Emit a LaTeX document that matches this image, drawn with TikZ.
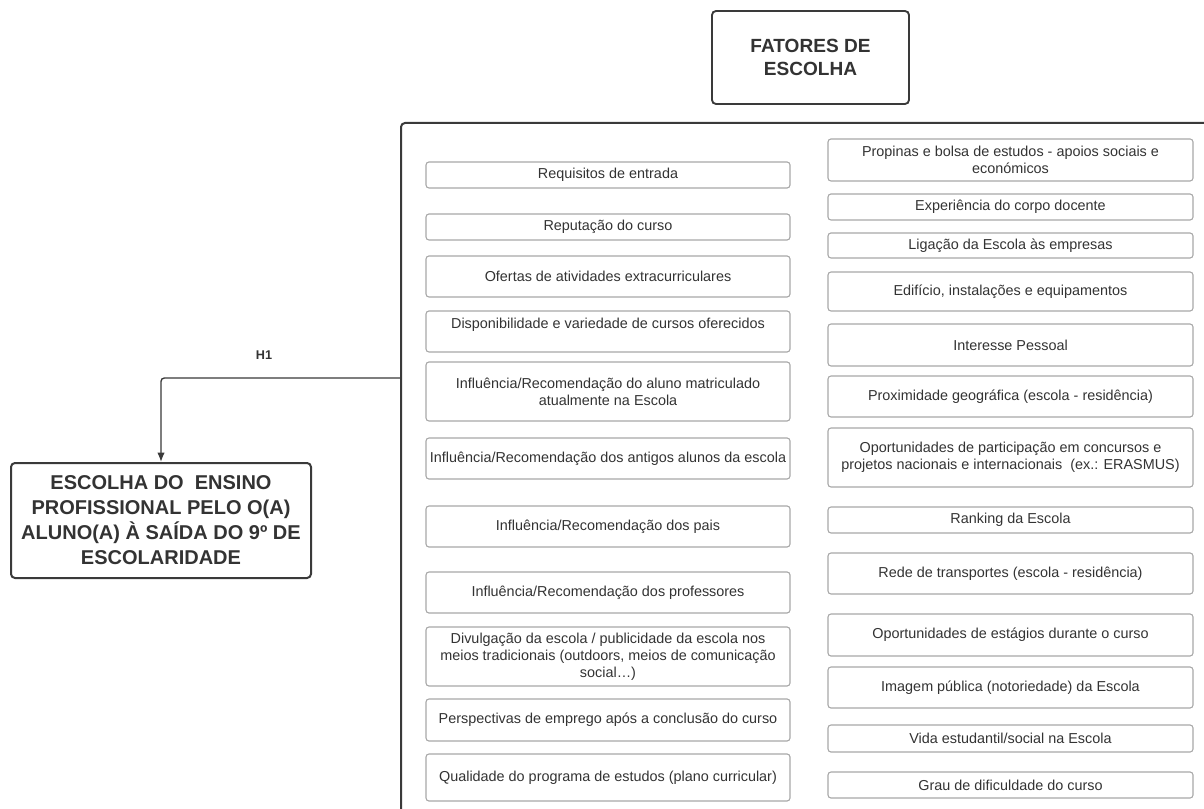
\documentclass[tikz,border=0pt]{standalone}
\usepackage{fontspec}
\setmainfont{Liberation Sans}
\usetikzlibrary{arrows.meta}
\definecolor{txt}{HTML}{333333}
\definecolor{edge}{HTML}{A8A8A8}
\definecolor{dark}{HTML}{3A3A3A}
\tikzset{
  item/.style={draw=edge, line width=0.8pt, rounded corners=2.2pt, align=center,
    text=txt, inner xsep=0pt, inner ysep=1pt, minimum width=#1*0.75pt,
    font=\fontsize{10.8}{12.75}\selectfont},
  item/.default=364,
  head/.style={draw=dark, line width=1.4pt, rounded corners=3pt, align=center,
    text=txt, inner sep=0pt, font=\bfseries\fontsize{14.3}{17.25}\selectfont},
  goalbox/.style={draw=dark, line width=1.5pt, rounded corners=3pt, align=center,
    text=txt, inner sep=0pt, font=\bfseries\fontsize{15}{18.75}\selectfont},
  frame/.style={draw=dark, line width=1.5pt, rounded corners=3pt},
  link/.style={draw=dark, line width=1pt, rounded corners=2.5pt, -{Latex[length=7pt,width=5.5pt]}},
  tag/.style={text=txt, font=\bfseries\fontsize{9.5}{11}\selectfont}
}
\begin{document}
\begin{tikzpicture}[x=0.75pt, y=-0.75pt]
\useasboundingbox (0,0) rectangle (1204,809);
\fill[white] (0,0) rectangle (1204,809);
% titles
\node[head, minimum width=197*0.75pt, minimum height=93*0.75pt] (title) at (810.5,57.5) {FATORES DE\\ESCOLHA};
\node[goalbox, minimum width=300*0.75pt, minimum height=115*0.75pt] (goal) at (161,520.5)
  {ESCOLHA DO\ \ ENSINO\\PROFISSIONAL PELO O(A)\\ALUNO(A) À SAÍDA DO 9º DE\\ESCOLARIDADE};
% container
\draw[frame] (1215,123) coordinate (ctr) -- (401,123) coordinate (ctl) -- (401,820) coordinate (cbl);
\coordinate (exit) at (401,378);
% left column
\node[item, minimum height=26*0.75pt] (l1) at (608,175) {Requisitos de entrada};
\node[item, minimum height=26*0.75pt] (l2) at (608,227) {Reputação do curso};
\node[item, minimum height=41*0.75pt] (l3) at (608,276.5) {Ofertas de atividades extracurriculares};
\node[item, minimum height=41*0.75pt] (l4) at (608,331.5) {Disponibilidade e variedade de cursos oferecidos\\\mbox{}};
\node[item, minimum height=59*0.75pt] (l5) at (608,391.5) {Influência/Recomendação do aluno matriculado\\atualmente na Escola};
\node[item, minimum height=41*0.75pt] (l6) at (608,458.5) {Influência/Recomendação dos antigos alunos da escola};
\node[item, minimum height=41*0.75pt] (l7) at (608,526.5) {Influência/Recomendação dos pais};
\node[item, minimum height=41*0.75pt] (l8) at (608,592.5) {Influência/Recomendação dos professores};
\node[item, minimum height=59*0.75pt] (l9) at (608,656.5) {Divulgação da escola / publicidade da escola nos\\meios tradicionais (outdoors, meios de comunicação\\social…)};
\node[item, minimum height=42*0.75pt] (l10) at (608,720) {Perspectivas de emprego após a conclusão do curso};
\node[item, minimum height=47*0.75pt] (l11) at (608,777.5) {Qualidade do programa de estudos (plano curricular)};
% right column
\node[item=365, minimum height=42*0.75pt] (r1) at (1010.5,160) {Propinas e bolsa de estudos - apoios sociais e\\económicos};
\node[item=365, minimum height=26*0.75pt] (r2) at (1010.5,207) {Experiência do corpo docente};
\node[item=365, minimum height=25*0.75pt] (r3) at (1010.5,245.5) {Ligação da Escola às empresas};
\node[item=365, minimum height=39*0.75pt] (r4) at (1010.5,291.5) {Edifício, instalações e equipamentos};
\node[item=365, minimum height=42*0.75pt] (r5) at (1010.5,345) {Interesse Pessoal};
\node[item=365, minimum height=41*0.75pt] (r6) at (1010.5,396.5) {Proximidade geográfica (escola - residência)};
\node[item=365, minimum height=59*0.75pt] (r7) at (1010.5,457.5) {Oportunidades de participação em concursos e\\projetos nacionais e internacionais\ \ (ex.: ERASMUS)};
\node[item=365, minimum height=26*0.75pt] (r8) at (1010.5,520) {Ranking da Escola};
\node[item=365, minimum height=41*0.75pt] (r9) at (1010.5,573.5) {Rede de transportes (escola - residência)};
\node[item=365, minimum height=42*0.75pt] (r10) at (1010.5,635) {Oportunidades de estágios durante o curso};
\node[item=365, minimum height=41*0.75pt] (r11) at (1010.5,687.5) {Imagem pública (notoriedade) da Escola};
\node[item=365, minimum height=27*0.75pt] (r12) at (1010.5,738.5) {Vida estudantil/social na Escola};
\node[item=365, minimum height=26*0.75pt] (r13) at (1010.5,785) {Grau de dificuldade do curso};
% connector
\draw[link] (exit) -| (goal.north);
\node[tag] (h1) at (264,355) {H1};
\end{tikzpicture}
\end{document}
